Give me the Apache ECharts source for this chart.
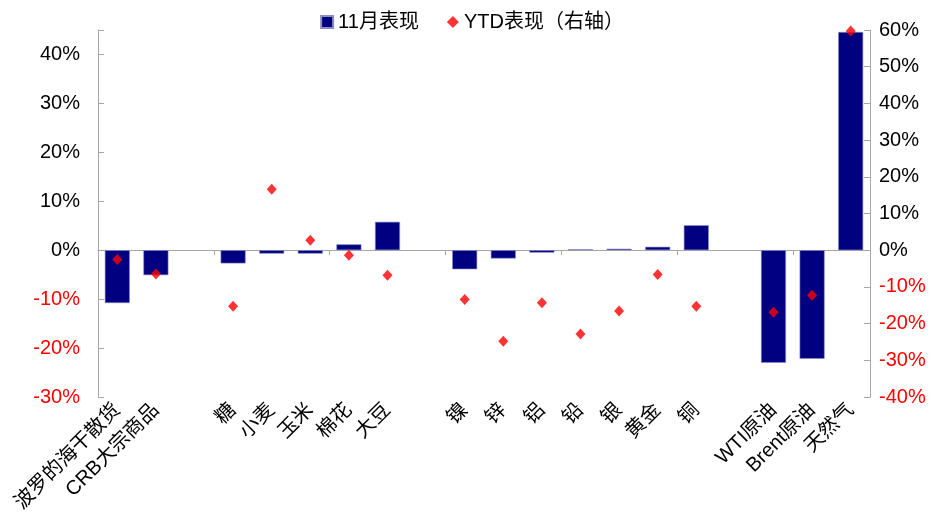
<!DOCTYPE html>
<html>
<head>
<meta charset="utf-8">
<script src="https://cdn.jsdelivr.net/npm/echarts@6/dist/echarts.min.js"></script>
<style>
  html, body { margin: 0; padding: 0; background: #fff; }
  #chart { width: 944px; height: 513px; }
</style>
</head>
<body>
<div id="chart"></div>
<script>
// categories, blanks are the group gaps
const categories = ['波罗的海干散货', 'CRB大宗商品', '', '糖', '小麦', '玉米', '棉花', '大豆', '',
  '镍', '锌', '铝', '铅', '银', '黄金', '铜', '', 'WTI原油', 'Brent原油', '天然气'];
// 11月表现 (%), left axis
const monthValues = [-10.8, -5.1, null, -2.7, -0.7, -0.7, 1.2, 5.8, null,
  -3.9, -1.7, -0.5, 0.2, 0.3, 0.7, 5.1, null, -23.0, -22.2, 44.6];
// YTD表现 (%), right axis
const ytdValues = [-2.5, -6.5, null, -15.3, 16.6, 2.7, -1.4, -6.8, null,
  -13.4, -24.8, -14.3, -22.8, -16.6, -6.6, -15.3, null, -16.9, -12.3, 59.7];
const leftTicks = { min: -30, max: 45, interval: 10 };
const rightTicks = { min: -40, max: 60, interval: 10 };

const latin = '"Liberation Sans", Arial, "Noto Sans CJK SC", sans-serif';
const axisGray = '#a6a6a6';
const labelColor = (v) => (Number(v) < 0 ? '#ff0000' : '#000000');

const chart = echarts.init(document.getElementById('chart'));
chart.setOption({
  animation: false,
  legend: {
    top: 7,
    left: 'center',
    itemGap: 28,
    itemWidth: 12,
    itemHeight: 12,
    textStyle: { fontFamily: latin, fontSize: 20, color: '#000' },
    data: [
      { name: '11月表现', icon: 'rect' },
      { name: 'YTD表现（右轴）', icon: 'diamond' },
    ],
  },
  grid: { left: 98, right: 74, top: 30, bottom: 116, outerBoundsMode: 'none' },
  xAxis: [
    {
      type: 'category',
      data: categories,
      axisLine: { onZero: true, lineStyle: { color: axisGray } },
      axisTick: { show: true, inside: false, length: 5, lineStyle: { color: axisGray } },
      axisLabel: { show: false },
    },
    {
      type: 'category',
      data: categories,
      position: 'bottom',
      axisLine: { show: false, onZero: false },
      axisTick: { show: false },
      axisLabel: {
        rotate: 45,
        interval: 0,
        margin: 10,
        fontFamily: latin,
        fontSize: 20,
        color: '#000',
      },
    },
  ],
  yAxis: [
    {
      type: 'value',
      min: leftTicks.min,
      max: leftTicks.max,
      interval: leftTicks.interval,
      splitLine: { show: false },
      axisLine: { show: true, lineStyle: { color: axisGray } },
      axisTick: { show: true, inside: true, length: 6, lineStyle: { color: axisGray } },
      axisLabel: {
        margin: 18,
        fontFamily: latin,
        fontSize: 20,
        color: labelColor,
        formatter: (v) => (v % 10 === 0 ? v + '%' : ''),
      },
    },
    {
      type: 'value',
      min: rightTicks.min,
      max: rightTicks.max,
      interval: rightTicks.interval,
      splitLine: { show: false },
      axisLine: { show: true, lineStyle: { color: axisGray } },
      axisTick: { show: true, inside: true, length: 6, lineStyle: { color: axisGray } },
      axisLabel: {
        margin: 9,
        fontFamily: latin,
        fontSize: 20,
        color: labelColor,
        formatter: (v) => v + '%',
      },
    },
  ],
  series: [
    {
      name: '11月表现',
      type: 'bar',
      xAxisIndex: 0,
      yAxisIndex: 0,
      data: monthValues,
      barWidth: 25,
      itemStyle: { color: '#000080', borderColor: '#8c8cc8', borderWidth: 0.6 },
    },
    {
      name: 'YTD表现（右轴）',
      type: 'scatter',
      xAxisIndex: 0,
      yAxisIndex: 1,
      data: ytdValues,
      symbol: 'diamond',
      symbolSize: [10, 11],
      itemStyle: { color: '#ff0000' },
      z: 5,
    },
  ],
});
</script>
</body>
</html>
